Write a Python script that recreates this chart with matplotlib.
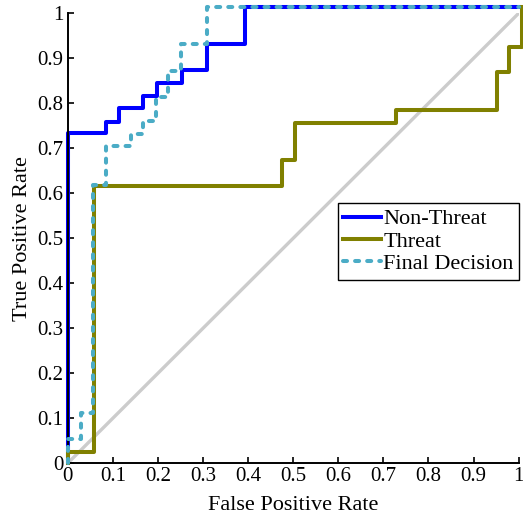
import matplotlib
matplotlib.use("Agg")
import matplotlib.pyplot as plt

plt.rcParams["font.family"] = ["Liberation Serif", "DejaVu Serif"]

# ROC corner points (steps-post order)
nonthreat_fpr = [0, 0, 0.084, 0.114, 0.168, 0.197, 0.253, 0.308, 0.393, 1.0]
nonthreat_tpr = [0, 0.733, 0.759, 0.789, 0.816, 0.844, 0.873, 0.931, 1.015, 1.015]

threat_fpr = [0, 0, 0.058, 0.476, 0.504, 0.729, 0.953, 0.979, 1.008]
threat_tpr = [0, 0.026, 0.617, 0.674, 0.756, 0.785, 0.870, 0.926, 1.015]

final_fpr = [0, 0, 0.029, 0.057, 0.084, 0.140, 0.168, 0.195, 0.223, 0.251, 0.308, 1.0]
final_tpr = [0, 0.054, 0.111, 0.618, 0.704, 0.731, 0.761, 0.815, 0.872, 0.931, 1.015, 1.015]

chance = [0, 1]
ticks = [0, 0.1, 0.2, 0.3, 0.4, 0.5, 0.6, 0.7, 0.8, 0.9, 1]
tick_labels = ["0", "0.1", "0.2", "0.3", "0.4", "0.5", "0.6", "0.7", "0.8", "0.9", "1"]

fig = plt.figure(figsize=(5.23, 5.15), dpi=100)
ax = fig.add_axes([0.1294, 0.1004, 0.8623, 0.8738])

ax.plot(chance, chance, color="#cccccc", lw=2.4, zorder=1)
ax.plot(nonthreat_fpr, nonthreat_tpr, drawstyle="steps-post", color="#0000ff", lw=2.9,
        label="Non-Threat", clip_on=False, zorder=2)
ax.plot(threat_fpr, threat_tpr, drawstyle="steps-post", color="#808000", lw=2.9,
        label="Threat", clip_on=False, zorder=3)
ax.plot(final_fpr, final_tpr, drawstyle="steps-post", color="#4bacc6", lw=2.9,
        linestyle=(0, (1.0, 2.0)), dash_capstyle="round", label="Final Decision",
        clip_on=False, zorder=4)

ax.set_xlim(0, 1)
ax.set_ylim(0, 1)
ax.set_xticks(ticks)
ax.set_xticklabels(tick_labels)
ax.set_yticks(ticks)
ax.set_yticklabels(tick_labels)
ax.tick_params(direction="in", length=4, width=1.2, labelsize=15, pad=3)
for side in ["top", "right"]:
    ax.spines[side].set_visible(False)
for side in ["left", "bottom"]:
    ax.spines[side].set_linewidth(1.4)

ax.set_xlabel("False Positive Rate", fontsize=16, labelpad=7)
ax.set_ylabel("True Positive Rate", fontsize=16, labelpad=4)

leg = ax.legend(loc="upper left", bbox_to_anchor=(0.599, 0.578), fontsize=16,
                frameon=True, fancybox=False, framealpha=1, edgecolor="black",
                handlelength=1.7, handletextpad=0.1, labelspacing=0.08,
                borderpad=0.25, borderaxespad=0)
leg.get_frame().set_linewidth(1.0)

fig.savefig("out.png", dpi=100)
